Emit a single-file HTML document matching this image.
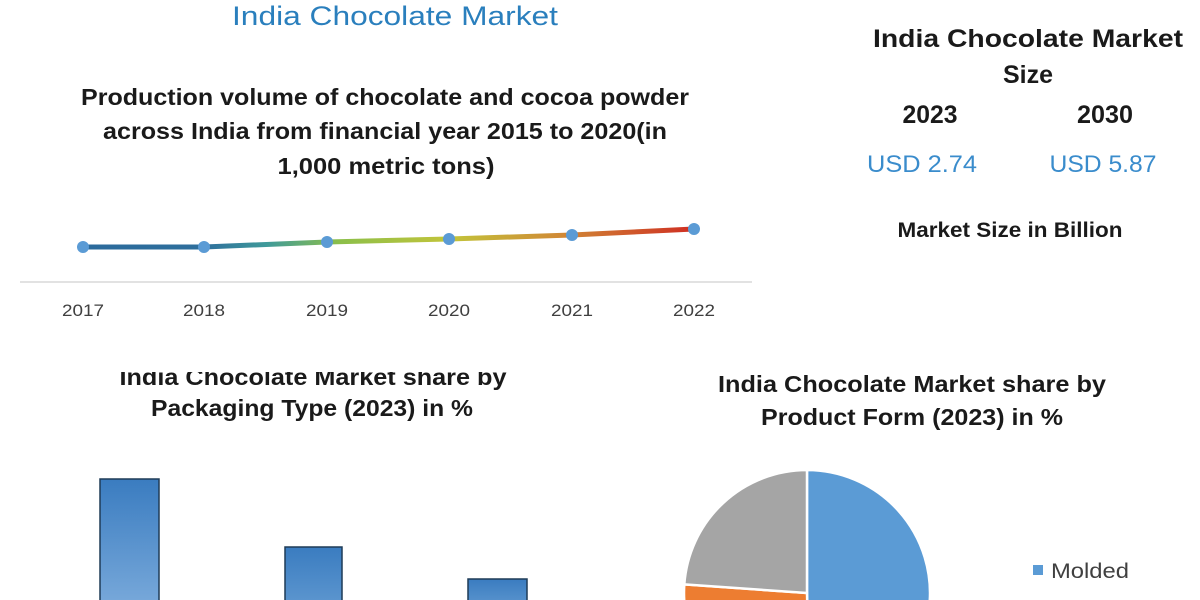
<!DOCTYPE html>
<html>
<head>
<meta charset="utf-8">
<style>
html,body{margin:0;padding:0;background:#fff;width:1200px;height:600px;overflow:hidden;}
svg{display:block;}
text{font-family:"Liberation Sans",Arial,sans-serif;}
</style>
</head>
<body>
<svg width="1200" height="600" viewBox="0 0 1200 600" xmlns="http://www.w3.org/2000/svg">
<defs>
  <linearGradient id="lg" gradientUnits="userSpaceOnUse" x1="83" y1="0" x2="694" y2="0">
    <stop offset="0" stop-color="#2b6a9c"/>
    <stop offset="0.2" stop-color="#2e6f9c"/>
    <stop offset="0.3" stop-color="#3f9a9a"/>
    <stop offset="0.42" stop-color="#8cbf4a"/>
    <stop offset="0.6" stop-color="#c2c43a"/>
    <stop offset="0.78" stop-color="#d08a36"/>
    <stop offset="1" stop-color="#cf2e22"/>
  </linearGradient>
  <linearGradient id="bg" x1="0" y1="0" x2="0" y2="1">
    <stop offset="0" stop-color="#3a7cc0"/>
    <stop offset="1" stop-color="#7aaadb"/>
  </linearGradient>
  <linearGradient id="bg2" x1="0" y1="0" x2="0" y2="1">
    <stop offset="0" stop-color="#3a7cc0"/>
    <stop offset="1" stop-color="#5f98d0"/>
  </linearGradient>
  <clipPath id="frame"><rect x="0" y="0" width="1200" height="600"/></clipPath>
</defs>

<!-- Main title -->
<text x="395" y="25" font-size="27" fill="#2a7fbd" text-anchor="middle" textLength="326" lengthAdjust="spacingAndGlyphs">India Chocolate Market</text>

<!-- Line chart title -->
<g font-weight="bold" fill="#1a1a1a" font-size="23" text-anchor="middle">
  <text x="385" y="105" textLength="608" lengthAdjust="spacingAndGlyphs">Production volume of chocolate and cocoa powder</text>
  <text x="385" y="139" textLength="564" lengthAdjust="spacingAndGlyphs">across India from financial year 2015 to 2020(in</text>
  <text x="386" y="174" textLength="217" lengthAdjust="spacingAndGlyphs">1,000 metric tons)</text>
</g>

<!-- axis -->
<line x1="20" y1="282" x2="752" y2="282" stroke="#d9d9d9" stroke-width="1.5"/>

<!-- line series -->
<polyline points="83,247 204,247 327,242 449,239 572,235 694,229" fill="none" stroke="url(#lg)" stroke-width="5" stroke-linejoin="round"/>
<g fill="#5b9bd5">
  <circle cx="83" cy="247" r="6"/>
  <circle cx="204" cy="247" r="6"/>
  <circle cx="327" cy="242" r="6"/>
  <circle cx="449" cy="239" r="6"/>
  <circle cx="572" cy="235" r="6"/>
  <circle cx="694" cy="229" r="6"/>
</g>

<!-- x labels -->
<g font-size="17" fill="#404040" text-anchor="middle">
  <text x="83" y="316" textLength="42" lengthAdjust="spacingAndGlyphs">2017</text>
  <text x="204" y="316" textLength="42" lengthAdjust="spacingAndGlyphs">2018</text>
  <text x="327" y="316" textLength="42" lengthAdjust="spacingAndGlyphs">2019</text>
  <text x="449" y="316" textLength="42" lengthAdjust="spacingAndGlyphs">2020</text>
  <text x="572" y="316" textLength="42" lengthAdjust="spacingAndGlyphs">2021</text>
  <text x="694" y="316" textLength="42" lengthAdjust="spacingAndGlyphs">2022</text>
</g>

<!-- Right panel -->
<g font-weight="bold" fill="#1a1a1a" text-anchor="middle">
  <text x="1028" y="47" font-size="25" textLength="310" lengthAdjust="spacingAndGlyphs">India Chocolate Market</text>
  <text x="1028" y="83" font-size="25" textLength="50" lengthAdjust="spacingAndGlyphs">Size</text>
  <text x="930" y="123" font-size="25" textLength="55" lengthAdjust="spacingAndGlyphs">2023</text>
  <text x="1105" y="123" font-size="25" textLength="56" lengthAdjust="spacingAndGlyphs">2030</text>
  <text x="1010" y="237" font-size="21" textLength="225" lengthAdjust="spacingAndGlyphs">Market Size in Billion</text>
</g>
<g fill="#3a8ccc" font-size="24" text-anchor="middle">
  <text x="922" y="172" textLength="110" lengthAdjust="spacingAndGlyphs">USD 2.74</text>
  <text x="1103" y="172" textLength="107" lengthAdjust="spacingAndGlyphs">USD 5.87</text>
</g>

<!-- Bottom-left title (top clipped) -->
<g font-weight="bold" fill="#1a1a1a" font-size="23" text-anchor="middle">
  <text x="313" y="385" textLength="387" lengthAdjust="spacingAndGlyphs">India Chocolate Market share by</text>
  <text x="312" y="416" textLength="322" lengthAdjust="spacingAndGlyphs">Packaging Type (2023) in %</text>
</g>
<rect x="100" y="330" width="430" height="42" fill="#fff"/>

<g clip-path="url(#frame)">
<!-- Bars -->
<g stroke="#1f3b57" stroke-width="1.5">
  <rect x="100" y="479" width="59" height="130" fill="url(#bg)"/>
  <rect x="285" y="547" width="57" height="62" fill="url(#bg2)"/>
  <rect x="468" y="579" width="59" height="30" fill="url(#bg2)"/>
</g>

<!-- Pie: center (807,593) r=123, bottom edge hidden below frame -->
<g stroke="#fff" stroke-width="2.5" stroke-linejoin="round">
  <path d="M807,593 L807,470 A123,123 0 0,1 929.3,606 L807.3,606 Z" fill="#5b9bd5"/>
  <path d="M807,593 L807.3,606 L684.7,606 A123,123 0 0,1 684.3,584.4 Z" fill="#ed7d31"/>
  <path d="M807,593 L684.3,584.4 A123,123 0 0,1 807,470 Z" fill="#a5a5a5"/>
</g>
</g>

<!-- Pie title -->
<g font-weight="bold" fill="#1a1a1a" font-size="23" text-anchor="middle">
  <text x="912" y="392" textLength="388" lengthAdjust="spacingAndGlyphs">India Chocolate Market share by</text>
  <text x="912" y="425" textLength="302" lengthAdjust="spacingAndGlyphs">Product Form (2023) in %</text>
</g>

<!-- Legend -->
<rect x="1033" y="565" width="10" height="10" fill="#5b9bd5"/>
<text x="1051" y="578" font-size="21" fill="#404040" textLength="78" lengthAdjust="spacingAndGlyphs">Molded</text>
</svg>
</body>
</html>
